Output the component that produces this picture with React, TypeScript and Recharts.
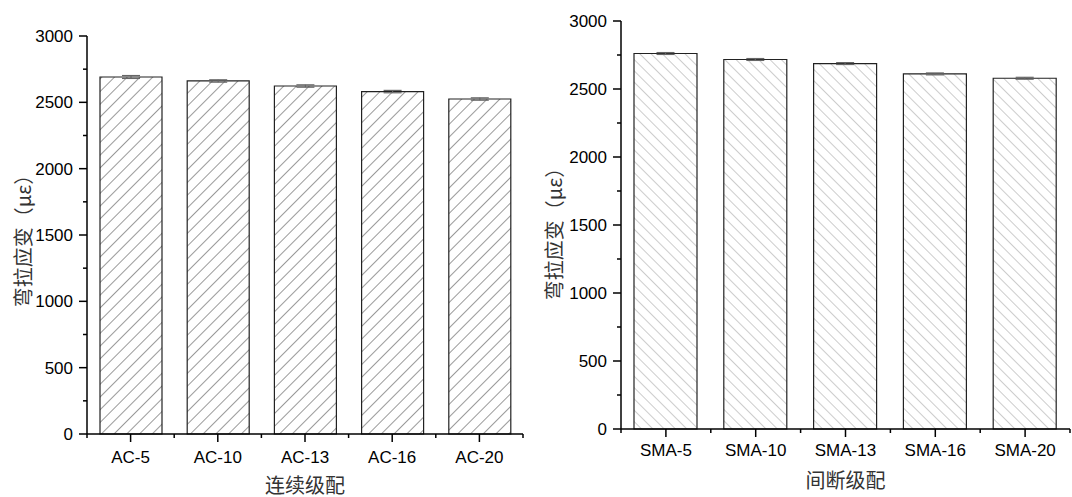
import { Bar, BarChart, ErrorBar, XAxis, YAxis } from "recharts"

// 连续级配 (AC) — 弯拉应变, με
const acCats = ["AC-5", "AC-10", "AC-13", "AC-16", "AC-20"]
const acStrain = [2691, 2661, 2623, 2581, 2525]
const acErr = [11, 9, 9, 9, 9]

// 间断级配 (SMA)
const smaCats = ["SMA-5", "SMA-10", "SMA-13", "SMA-16", "SMA-20"]
const smaStrain = [2761, 2717, 2687, 2611, 2579]
const smaErr = [7, 7, 7, 7, 7]

const yTicks = [0, 250, 500, 750, 1000, 1250, 1500, 1750, 2000, 2250, 2500, 2750, 3000]

const NUM_FONT = "'Liberation Sans', Arial, sans-serif"
const CJK_FONT = "'Noto Sans CJK SC', 'Liberation Sans', sans-serif"

type PanelProps = {
  cats: string[]
  values: number[]
  errs: number[]
  left: number
  width: number
  top: number
  plotLeft: number
  plotRight: number
  plotBottom: number
  barSize: number
  hatchId: string
  hatchAngle: number
  hatchGap: number
  hatchColor: string
  xLabel: string
  yLabelX: number
  yLabelShift: number
  tickDy: number
}

function Panel(p: PanelProps) {
  const height = 497
  const data = p.cats.map((name, i) => ({ name, strain: p.values[i], err: p.errs[i] }))
  const plotWidth = p.plotRight - p.plotLeft
  const band = plotWidth / p.cats.length

  const yTick = (props: any) => {
    const { x, y, payload } = props
    const major = payload.value % 500 === 0
    return (
      <g>
        <line x1={x - (major ? 8 : 4)} x2={x} y1={y} y2={y} stroke="#000" strokeWidth={1.5} />
        {major && (
          <text
            x={x - 14}
            y={y}
            dy="0.36em"
            textAnchor="end"
            fontFamily={NUM_FONT}
            fontSize={17}
            fill="#000"
          >
            {payload.value}
          </text>
        )}
      </g>
    )
  }

  const xTick = (props: any) => {
    const { x, y, payload, index } = props
    return (
      <g>
        <line x1={x} x2={x} y1={y} y2={y + 8} stroke="#000" strokeWidth={1.5} />
        {index === 0 && (
          <line x1={x - band / 2} x2={x - band / 2} y1={y} y2={y + 4} stroke="#000" strokeWidth={1.5} />
        )}
        <line x1={x + band / 2} x2={x + band / 2} y1={y} y2={y + 4} stroke="#000" strokeWidth={1.5} />
        <text x={x} y={y + p.tickDy} textAnchor="middle" fontFamily={NUM_FONT} fontSize={17} fill="#000">
          {payload.value}
        </text>
      </g>
    )
  }

  return (
    <div style={{ position: "absolute", left: p.left, top: 0 }}>
      <BarChart
        width={p.width}
        height={height}
        data={data}
        margin={{ top: p.top, right: p.width - (p.plotRight - p.left), left: 0, bottom: 0 }}
      >
        <defs>
          <pattern
            id={p.hatchId}
            width={p.hatchGap}
            height={p.hatchGap}
            patternUnits="userSpaceOnUse"
            patternTransform={`rotate(${p.hatchAngle})`}
          >
            <rect width={p.hatchGap} height={p.hatchGap} fill="#fff" />
            <line x1={0} y1={0} x2={0} y2={p.hatchGap} stroke={p.hatchColor} strokeWidth={1.2} />
          </pattern>
        </defs>
        <XAxis
          dataKey="name"
          height={height - p.plotBottom}
          axisLine={{ stroke: "#000", strokeWidth: 1.5 }}
          tickLine={false}
          tickSize={0}
          tickMargin={0}
          interval={0}
          tick={xTick}
          label={{
            content: ({ viewBox }: any) => (
              <text
                x={viewBox.x + viewBox.width / 2}
                y={viewBox.y + 50}
                textAnchor="middle"
                dominantBaseline="central"
                fontFamily={CJK_FONT}
                fontSize={20}
                fill="#333"
              >
                {p.xLabel}
              </text>
            ),
          }}
        />
        <YAxis
          domain={[0, 3000]}
          ticks={yTicks}
          interval={0}
          width={p.plotLeft - p.left}
          axisLine={{ stroke: "#000", strokeWidth: 1.5 }}
          tickLine={false}
          tickSize={0}
          tickMargin={0}
          tick={yTick}
          label={{
            content: ({ viewBox }: any) => {
              const cx = viewBox.x + p.yLabelX
              const cy = viewBox.y + viewBox.height / 2 + p.yLabelShift
              return (
                <text
                  x={cx}
                  y={cy}
                  transform={`rotate(-90 ${cx} ${cy})`}
                  textAnchor="middle"
                  dominantBaseline="central"
                  fontFamily={CJK_FONT}
                  fontSize={20}
                  fill="#333"
                >
                  弯拉应变（με）
                </text>
              )
            },
          }}
        />
        <Bar
          dataKey="strain"
          barSize={p.barSize}
          fill={`url(#${p.hatchId})`}
          stroke="#222"
          strokeWidth={1.2}
          isAnimationActive={false}
        >
          <ErrorBar dataKey="err" width={9} stroke="#666" strokeWidth={1.2} direction="y" />
        </Bar>
      </BarChart>
    </div>
  )
}

export default function App() {
  return (
    <div style={{ position: "absolute", left: 0, top: 0, width: 1072, height: 497, background: "#fff" }}>
      <Panel
        cats={acCats}
        values={acStrain}
        errs={acErr}
        left={0}
        width={540}
        top={36}
        plotLeft={87}
        plotRight={523}
        plotBottom={434}
        barSize={62}
        hatchId="hatch-ac"
        hatchAngle={45}
        hatchGap={9}
        hatchColor="#555"
        xLabel="连续级配"
        yLabelX={22}
        yLabelShift={1}
        tickDy={29}
      />
      <Panel
        cats={smaCats}
        values={smaStrain}
        errs={smaErr}
        left={540}
        width={532}
        top={21}
        plotLeft={621}
        plotRight={1070}
        plotBottom={429}
        barSize={63}
        hatchId="hatch-sma"
        hatchAngle={-45}
        hatchGap={8}
        hatchColor="#aaa"
        xLabel="间断级配"
        yLabelX={13}
        yLabelShift={4}
        tickDy={27}
      />
    </div>
  )
}
